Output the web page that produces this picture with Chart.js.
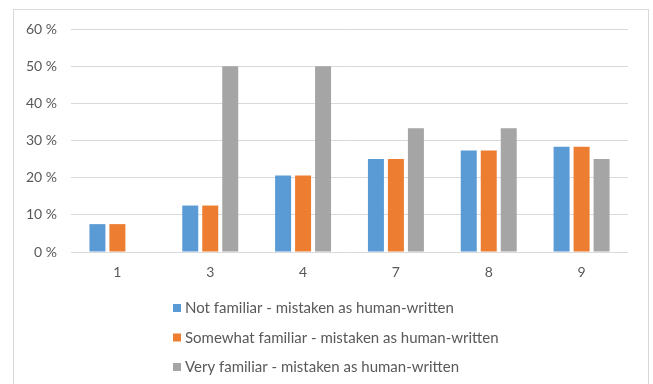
<!DOCTYPE html>
<html>
<head>
<meta charset="utf-8">
<script src="https://cdn.jsdelivr.net/npm/chart.js@4/dist/chart.umd.min.js"></script>
<style>
  html, body { margin: 0; padding: 0; background: #ffffff; }
  #wrap { position: relative; width: 653px; height: 384px; }
  canvas { display: block; }
</style>
</head>
<body>
<div id="wrap"><canvas id="chart" width="653" height="384"></canvas></div>
<script>
// Familiarity groups vs. share of texts mistaken as human-written (%)
const categories = ['1', '3', '4', '7', '8', '9'];
const notFamiliar = [7.5, 12.5, 20.6, 25.0, 27.3, 28.3];
const somewhatFamiliar = [7.5, 12.5, 20.6, 25.0, 27.3, 28.3];
const veryFamiliar = [0, 50.0, 50.0, 33.3, 33.3, 25.0];
const seriesNames = [
  'Not familiar - mistaken as human-written',
  'Somewhat familiar - mistaken as human-written',
  'Very familiar - mistaken as human-written'
];
const yTicks = [0, 10, 20, 30, 40, 50, 60];

const FONT = 'Lato, "Liberation Sans", sans-serif';
const TEXT = '#595959';
const GRID = '#d9d9d9';

// Outer frame plus a stacked legend under the plot
const framePlugin = {
  id: 'frame',
  beforeDraw(chart) {
    const ctx = chart.ctx;
    ctx.save();
    ctx.fillStyle = '#ffffff';
    ctx.fillRect(0, 0, chart.width, chart.height);
    ctx.strokeStyle = GRID;
    ctx.lineWidth = 1;
    ctx.strokeRect(13.5, 9.5, 635, chart.height + 10);
    ctx.restore();
  },
  afterDraw(chart) {
    const ctx = chart.ctx;
    ctx.save();
    ctx.font = '15px ' + FONT;
    ctx.textBaseline = 'middle';
    ctx.textAlign = 'left';
    chart.data.datasets.forEach((ds, i) => {
      const y = 308 + i * 29.5;
      ctx.fillStyle = ds.backgroundColor;
      ctx.fillRect(173, y - 4, 8, 8);
      ctx.fillStyle = TEXT;
      ctx.fillText(ds.label, 185, y + 0.5);
    });
    ctx.restore();
  }
};

new Chart(document.getElementById('chart'), {
  type: 'bar',
  data: {
    labels: categories,
    datasets: [
      { label: seriesNames[0], data: notFamiliar, backgroundColor: '#5b9bd5' },
      { label: seriesNames[1], data: somewhatFamiliar, backgroundColor: '#ed7d31' },
      { label: seriesNames[2], data: veryFamiliar, backgroundColor: '#a5a5a5' }
    ]
  },
  options: {
    responsive: false,
    animation: false,
    devicePixelRatio: 1,
    layout: { padding: { left: 14, right: 25, top: 29, bottom: 0 } },
    datasets: {
      bar: { categoryPercentage: 0.646, barPercentage: 0.8, borderWidth: 0 }
    },
    plugins: {
      legend: { display: false },
      tooltip: { enabled: false }
    },
    scales: {
      x: {
        grid: { display: false, drawTicks: false },
        border: { display: false },
        ticks: { color: TEXT, font: { family: FONT, size: 14 }, padding: 12 },
        afterFit(scale) { scale.height = 132; }
      },
      y: {
        min: 0,
        max: 60,
        afterBuildTicks(scale) { scale.ticks = yTicks.map(v => ({ value: v })); },
        grid: { color: GRID, lineWidth: 1, drawTicks: false },
        border: { display: false },
        ticks: {
          color: TEXT,
          font: { family: FONT, size: 14 },
          padding: 14,
          callback: v => v + ' %'
        },
        afterFit(scale) { scale.width = 57; }
      }
    }
  },
  plugins: [framePlugin]
});
</script>
</body>
</html>
